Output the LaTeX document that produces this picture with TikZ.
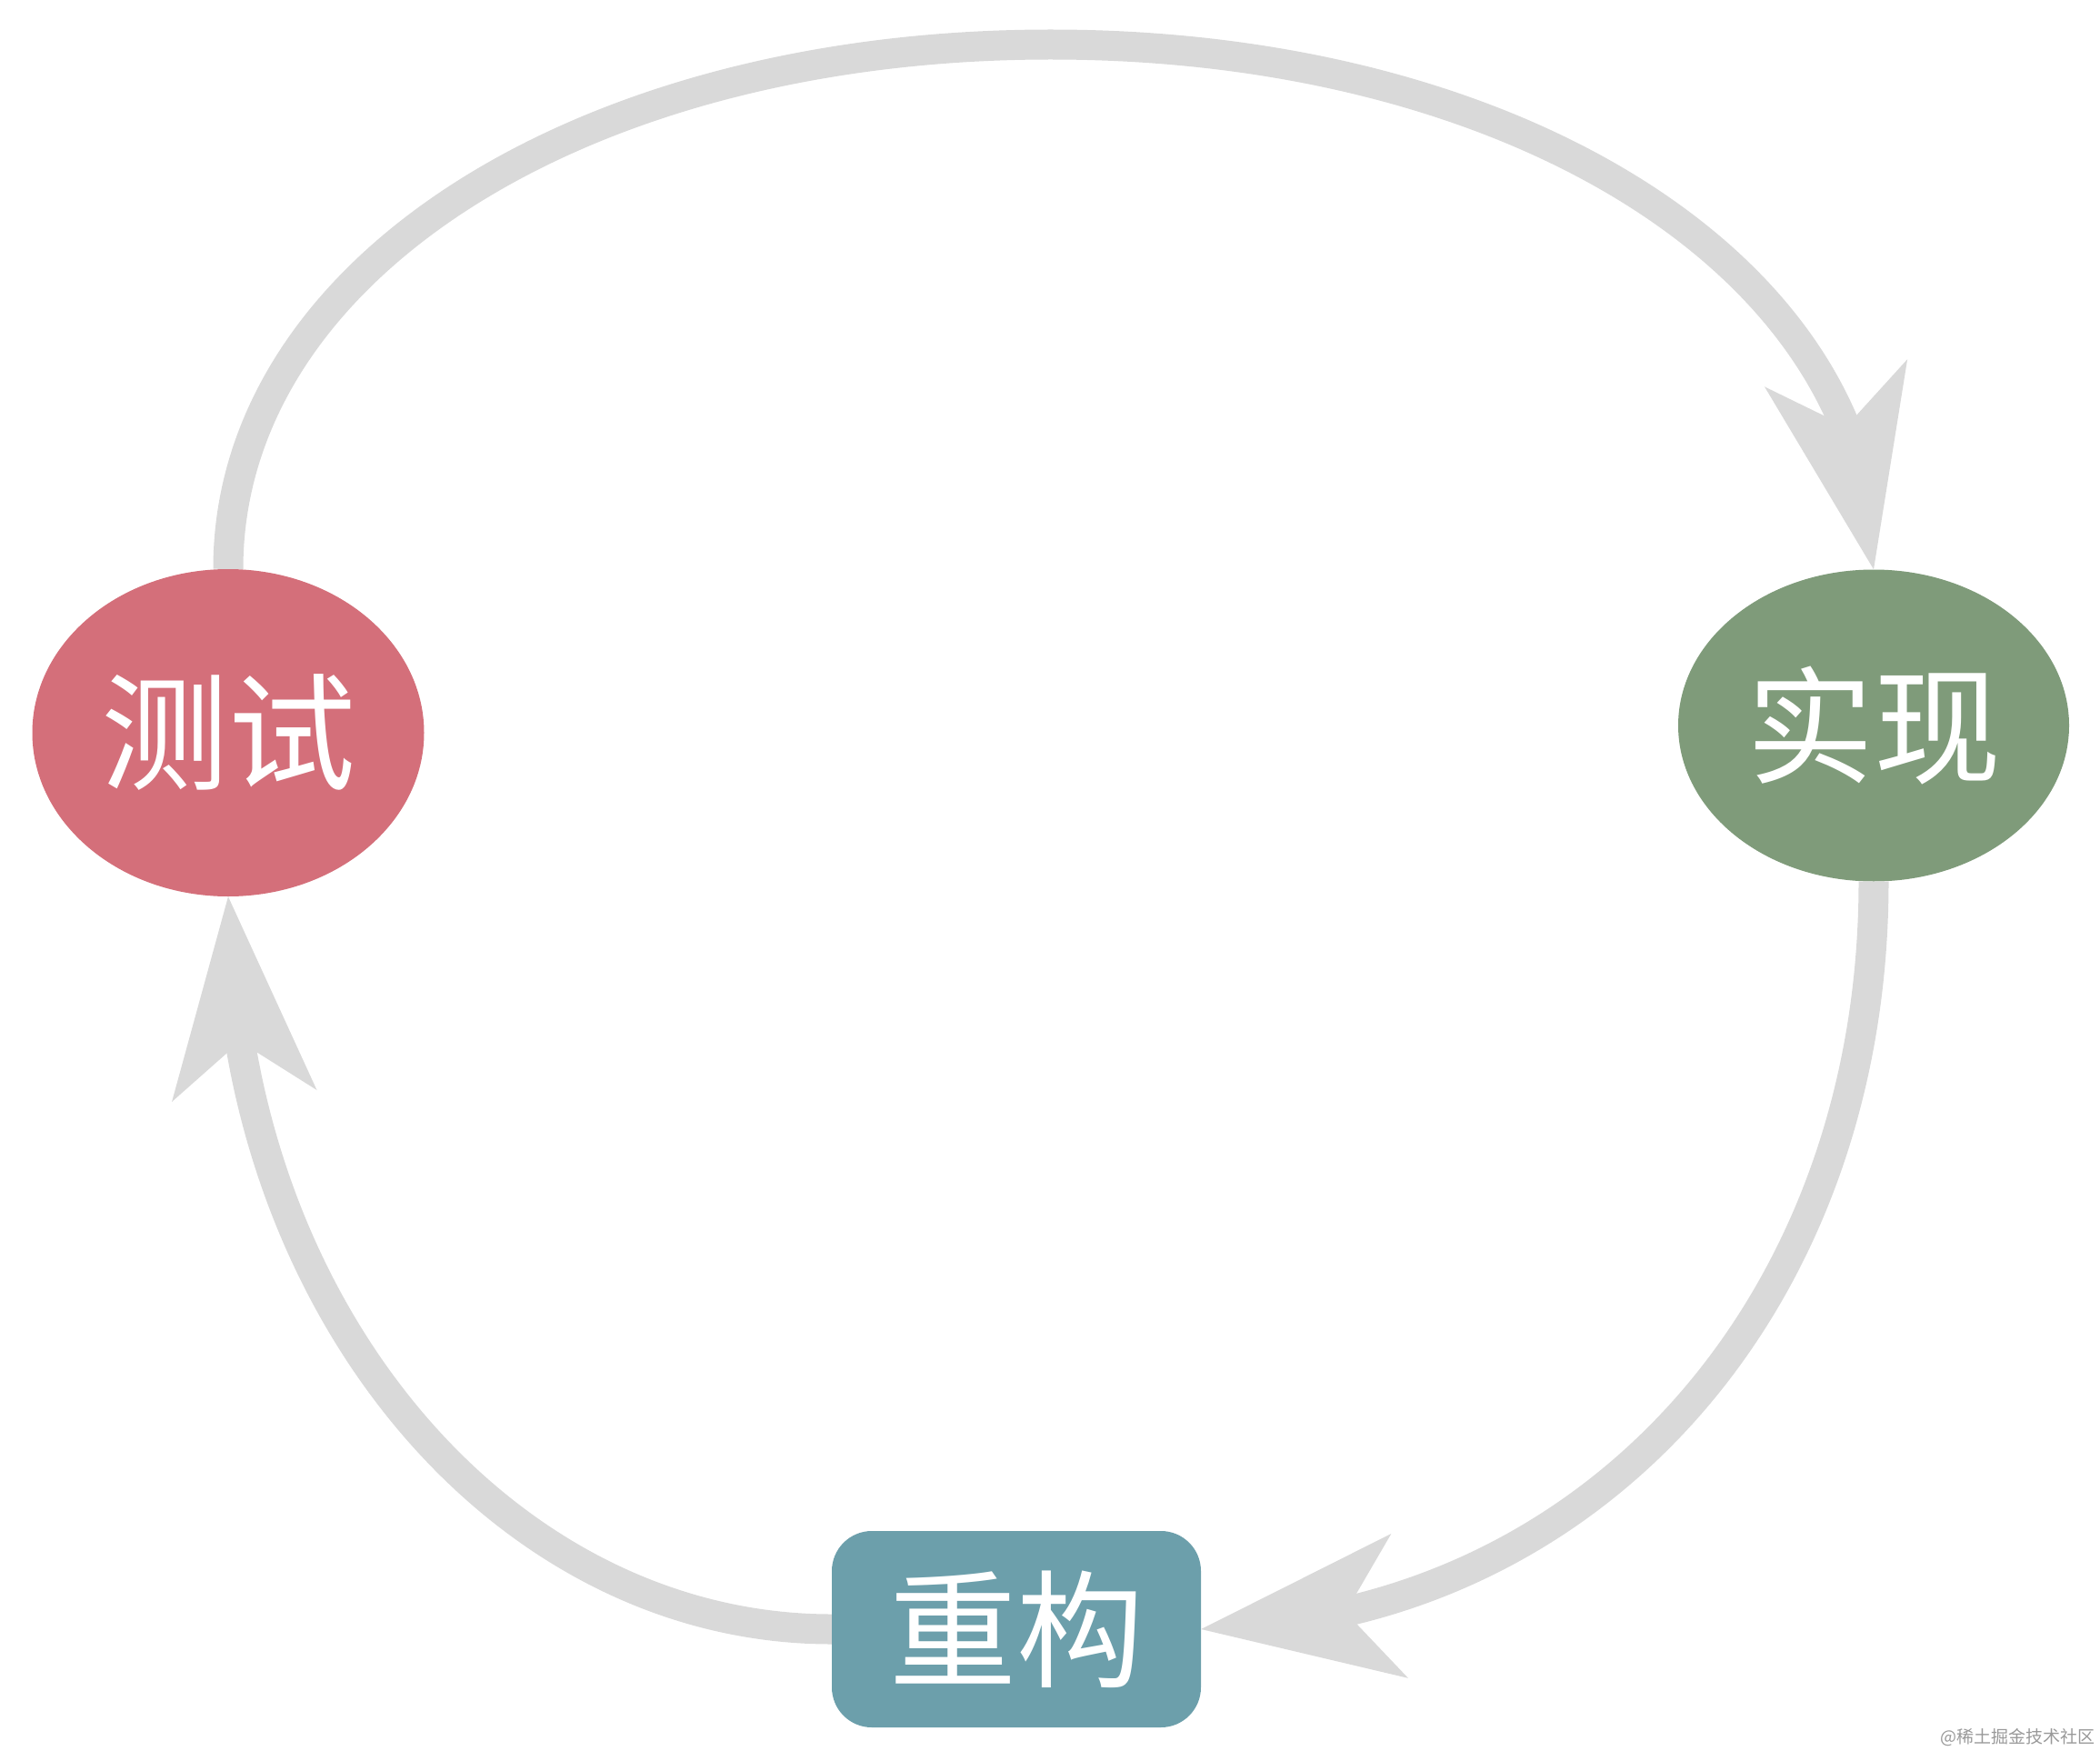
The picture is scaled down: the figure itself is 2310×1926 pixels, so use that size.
\documentclass[tikz,border=0pt]{standalone}
\usepackage{fontspec}
\newfontfamily\cjk{Noto Sans CJK SC}
\usetikzlibrary{arrows.meta,shapes.geometric,bending}
\definecolor{cred}{RGB}{212,111,122}
\definecolor{cgreen}{RGB}{127,155,122}
\definecolor{cteal}{RGB}{108,159,171}
\definecolor{cgray}{RGB}{217,217,217}
\begin{document}
\begin{tikzpicture}[x=1pt,y=-1pt,
  lbl/.style={inner sep=0pt, text=white, font=\cjk\fontsize{140}{140}\selectfont},
  ell/.style={lbl, ellipse},
  conn/.style={draw=cgray, line width=33pt, -{Stealth[length=220pt,width=160pt,inset=60pt,line width=0pt,flex]}},
]
\useasboundingbox (0,0) rectangle (2310,1926);
\node[ell, fill=cred, minimum width=431pt, minimum height=360pt] (cs) at (251,806) {测试};
\node[ell, fill=cgreen, minimum width=430pt, minimum height=343pt] (sx) at (2061,798) {实现};
\node[lbl, rectangle, rounded corners=44pt, fill=cteal, minimum width=406pt, minimum height=216pt] (cg) at (1118,1792) {重构};
\draw[conn] (cs.north) .. controls (251,297) and (640,49) .. (1156,49)
  .. controls (1672,49) and (2061,297) .. (sx.north);
\draw[conn] (sx.south) .. controls (2061,1440) and (1745,1785) .. (cg.east);
\draw[conn] (cg.west) .. controls (548,1792) and (251,1431) .. (cs.south);
\node[anchor=east, inner sep=0pt, text=black!40, font=\cjk\fontsize{19}{19}\selectfont] (wm) at (2305,1911) {@稀土掘金技术社区};
\end{tikzpicture}
\end{document}
